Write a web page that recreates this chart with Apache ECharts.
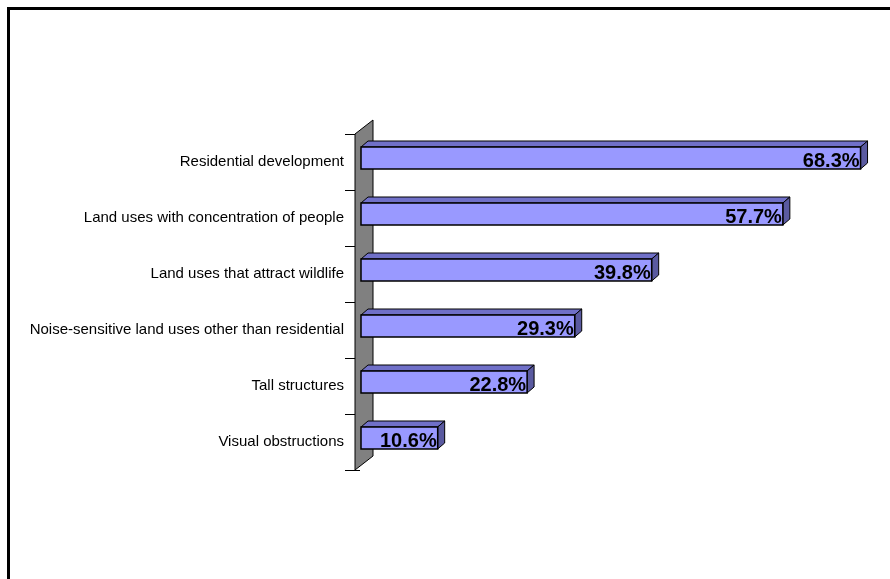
<!DOCTYPE html>
<html><head><meta charset="utf-8">
<script src="https://cdn.jsdelivr.net/npm/echarts@6/dist/echarts.min.js"></script>
<style>html,body{margin:0;padding:0;background:#fff}#c{width:890px;height:579px}</style>
</head><body><div id="c"></div>
<script>
const categories = ["Residential development","Land uses with concentration of people","Land uses that attract wildlife","Noise-sensitive land uses other than residential","Tall structures","Visual obstructions"];
const values = [68.3, 57.7, 39.8, 29.3, 22.8, 10.6];
const valueLabels = ["68.3%","57.7%","39.8%","29.3%","22.8%","10.6%"];

const chart = echarts.init(document.getElementById('c'));
const DX = 7, DY = 6;
chart.setOption({
  animation: false,
  backgroundColor: '#fff',
  grid: {left: 360, right: 17, top: 134, height: 336},
  xAxis: {type: 'value', min: 0, max: 70, show: false},
  yAxis: {
    type: 'category', data: categories, inverse: true, z: 0,
    axisLine: {show: false},
    axisTick: {show: true, length: 15, lineStyle: {color: '#000', width: 1}},
    axisLabel: {margin: 16, color: '#000', fontFamily: 'Liberation Sans, Arial', fontSize: 15}
  },
  graphic: [
    {type: 'polygon', z: 5, shape: {points: [[355,134],[373,120],[373,456],[355,470]]},
     style: {fill: '#808080', stroke: '#000', lineWidth: 1}},
    {type: 'rect', z: 100, shape: {x: 8.5, y: 8.5, width: 1000, height: 1000},
     style: {fill: 'none', stroke: '#000', lineWidth: 3}}
  ],
  series: [{
    type: 'custom', z: 10,
    data: values.map((v, i) => [v, i]),
    encode: {x: 0, y: 1},
    renderItem: function (params, api) {
      const i = api.value(1);
      const p0 = api.coord([0, i]);
      const p1 = api.coord([api.value(0), i]);
      const x0 = p0[0] + 1, x1 = p1[0];
      const yt = p0[1] - 15, yb = p0[1] + 7;
      return {type: 'group', children: [
        {type: 'polygon', shape: {points: [[x0,yt],[x0+DX,yt-DY],[x1+DX,yt-DY],[x1,yt]]},
         style: {fill: '#7070C8', stroke: '#000', lineWidth: 1}},
        {type: 'polygon', shape: {points: [[x1,yt],[x1+DX,yt-DY],[x1+DX,yb-DY],[x1,yb]]},
         style: {fill: '#5A5AA0', stroke: '#000', lineWidth: 1}},
        {type: 'rect', shape: {x: x0, y: yt, width: x1 - x0, height: yb - yt},
         style: {fill: '#9999FF', stroke: '#000', lineWidth: 1.5}},
        {type: 'text', style: {x: x1 - 1, y: (yt + yb) / 2 + 3, text: valueLabels[i],
          align: 'right', verticalAlign: 'middle', fill: '#000',
          font: 'bold 20px "Liberation Sans", Arial'}}
      ]};
    }
  }]
});
</script></body></html>
